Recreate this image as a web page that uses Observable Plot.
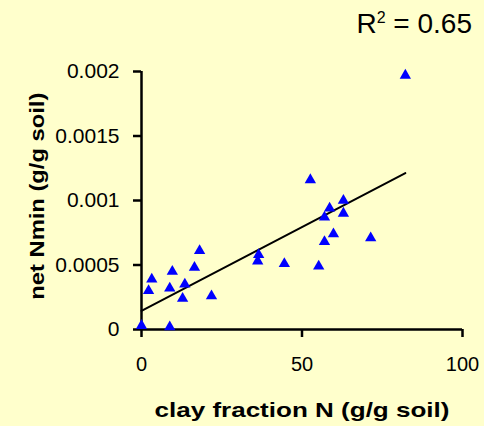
<!DOCTYPE html>
<html>
<head>
<meta charset="utf-8">
<script src="https://cdn.jsdelivr.net/npm/d3@7"></script>
<script src="https://cdn.jsdelivr.net/npm/@observablehq/plot@0.6"></script>
<style>
  html, body { margin: 0; padding: 0; background: #FFFFCC; }
  #wrap { position: relative; width: 484px; height: 426px; overflow: hidden; }
  #r2 { position: absolute; right: 12px; top: 9.6px; font: 28px "Liberation Sans", Arial, sans-serif; line-height: 1; color: #000; white-space: nowrap; }
  #r2 .sup { font-size: 16px; position: relative; top: -10px; }
</style>
</head>
<body>
<div id="wrap">
  <div id="chart"></div>
  <div id="r2">R<span class="sup">2</span> = 0.65</div>
</div>
<script>
// Data
const clayFraction = [0, 8.8, 2.2, 3.2, 9.6, 8.8, 13.5, 12.8, 16.5, 18.1, 21.8, 36.2, 36.5, 44.5, 52.6, 55.2, 57.0, 59.8, 57.0, 58.6, 62.9, 62.9, 71.4, 82.2];
const netNmin = [0.00003, 0.00002, 0.0003, 0.00039, 0.00045, 0.00032, 0.00035, 0.00024, 0.00048, 0.00061, 0.00026, 0.00053, 0.00058, 0.00051, 0.00116, 0.00049, 0.00068, 0.00074, 0.00087, 0.00094, 0.001, 0.0009, 0.00071, 0.00197];
const xTicks = [0, 50, 100];
const yTicks = [0, 0.0005, 0.001, 0.0015, 0.002];
const xLabel = "clay fraction N (g/g soil)";
const yLabel = "net Nmin (g/g soil)";

const data = clayFraction.map((x, i) => ({x, y: netNmin[i]}));

const chart = Plot.plot({
  width: 484,
  height: 426,
  marginLeft: 141,
  marginRight: 22,
  marginTop: 71,
  marginBottom: 97,
  style: {background: "#FFFFCC", fontFamily: "'Liberation Sans', Arial, sans-serif", fontSize: "20px", color: "black", overflow: "visible"},
  x: {domain: [0, 100]},
  y: {domain: [0, 0.002]},
  marks: [
    Plot.axisX({ticks: xTicks, tickSize: 8, tickPadding: 19, strokeWidth: 2.5, label: null, fontSize: 20}),
    Plot.axisY({ticks: yTicks, tickSize: 8, tickPadding: 14, strokeWidth: 2.5, label: null, fontSize: 21, tickFormat: d => String(d)}),
    Plot.ruleY([0], {stroke: "black", strokeWidth: 2.5}),
    Plot.ruleX([0], {stroke: "black", strokeWidth: 2.5}),
    Plot.linearRegressionY(data, {x: "x", y: "y", ci: 0, stroke: "black", strokeWidth: 2}),
    Plot.dot(data, {x: "x", y: "y", symbol: "triangle", fill: "#0000FF", r: 4.2}),
    Plot.text([xLabel], {frameAnchor: "bottom", textAnchor: "middle", lineAnchor: "middle", dy: 80.3, fontWeight: "bold", fontSize: 21, fill: "black", className: "xtitle"}),
    Plot.text([yLabel], {frameAnchor: "left", textAnchor: "middle", lineAnchor: "middle", dx: -104.5, dy: -4.3, rotate: -90, fontWeight: "bold", fontSize: 21, fill: "black", className: "ytitle"})
  ]
});
document.getElementById("chart").appendChild(chart);

// The reference's axis titles are drawn horizontally wider; stretch the glyphs to its widths.
function stretch(sel, len) {
  chart.querySelectorAll(sel + " text").forEach(t => {
    t.setAttribute("textLength", len);
    t.setAttribute("lengthAdjust", "spacingAndGlyphs");
  });
}
stretch(".xtitle", 295);
stretch(".ytitle", 207);
</script>
</body>
</html>
